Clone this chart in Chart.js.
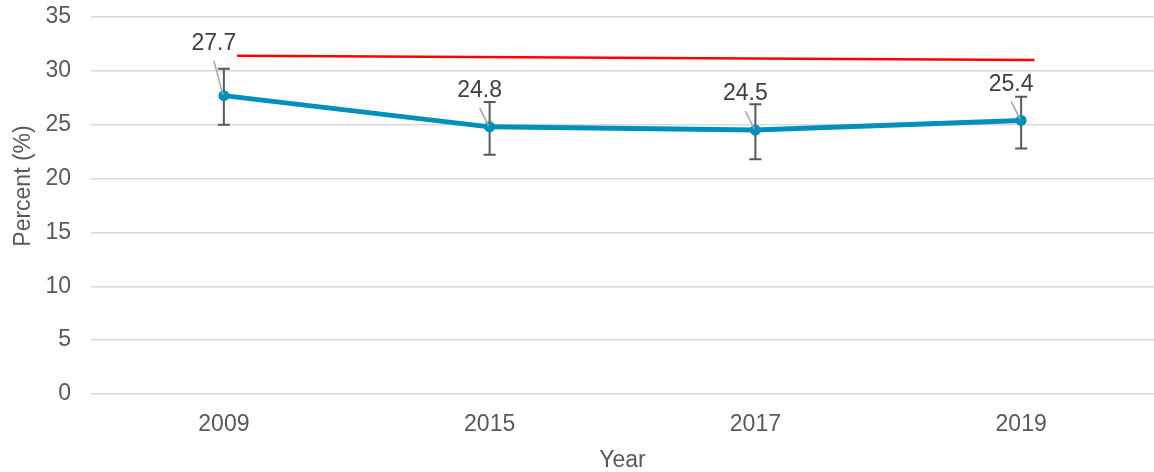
<!DOCTYPE html>
<html>
<head>
<meta charset="utf-8">
<script src="https://cdn.jsdelivr.net/npm/chart.js@4"></script>
<style>
  html, body { margin: 0; padding: 0; background: #fff; overflow: hidden; }
  canvas { display: block; }
</style>
</head>
<body>
<canvas id="myChart" width="1154" height="472"></canvas>
<script>
// data
const years = ['2009', '2015', '2017', '2019'];
const percent = [27.7, 24.8, 24.5, 25.4];
const ciLow = [25.0, 22.2, 21.8, 22.8];
const ciHigh = [30.2, 27.1, 26.9, 27.6];
// red reference line, start and end (x in category index units)
const refX = [0.05, 3.05];
const refY = [31.4, 31.0];

const FONT = "'Liberation Sans', Arial, sans-serif";

// error bars under the line
const errorBars = {
  id: 'errorBars',
  beforeDatasetsDraw(chart) {
    const ctx = chart.ctx;
    const x = chart.scales.x, y = chart.scales.y;
    ctx.save();
    ctx.strokeStyle = '#595959';
    ctx.lineWidth = 2;
    years.forEach((yr, i) => {
      const px = x.getPixelForValue(i);
      const top = y.getPixelForValue(ciHigh[i]);
      const bot = y.getPixelForValue(ciLow[i]);
      ctx.beginPath();
      ctx.moveTo(px, top); ctx.lineTo(px, bot);
      ctx.moveTo(px - 6, top); ctx.lineTo(px + 6, top);
      ctx.moveTo(px - 6, bot); ctx.lineTo(px + 6, bot);
      ctx.stroke();
    });
    ctx.restore();
  }
};

// value labels with leader lines, plus the y title
const labelsPlugin = {
  id: 'labelsPlugin',
  afterDatasetsDraw(chart) {
    const ctx = chart.ctx;
    const meta = chart.getDatasetMeta(0);
    ctx.save();
    meta.data.forEach((pt, i) => {
      const lift = i === 0 ? 52 : 36;
      const lx = pt.x - 10, ly = pt.y - lift;
      ctx.strokeStyle = '#a6a6a6';
      ctx.lineWidth = 1.5;
      ctx.beginPath();
      ctx.moveTo(lx, ly + 17);
      ctx.lineTo(pt.x - 1, pt.y - 1);
      ctx.stroke();
      ctx.fillStyle = '#404040';
      ctx.font = '23px ' + FONT;
      ctx.textAlign = 'center';
      ctx.textBaseline = 'middle';
      ctx.fillText(percent[i].toFixed(1), lx, ly);
    });
    ctx.restore();
  },
  afterDraw(chart) {
    const ctx = chart.ctx;
    ctx.save();
    ctx.translate(24, 186);
    ctx.rotate(-Math.PI / 2);
    ctx.fillStyle = '#595959';
    ctx.font = '23px ' + FONT;
    ctx.textAlign = 'center';
    ctx.textBaseline = 'middle';
    ctx.fillText('Percent (%)', 0, 0);
    ctx.restore();
  }
};

const ctx = document.getElementById('myChart').getContext('2d');
new Chart(ctx, {
  type: 'line',
  data: {
    labels: years,
    datasets: [{
      label: 'Percent',
      data: percent,
      borderColor: '#0090ba',
      backgroundColor: '#0090ba',
      borderWidth: 5,
      pointRadius: 3,
      pointHoverRadius: 3,
      tension: 0,
      xAxisID: 'x',
      order: 1
    }, {
      label: 'Reference',
      data: refX.map((v, i) => ({ x: v, y: refY[i] })),
      borderColor: '#ff0000',
      backgroundColor: '#ff0000',
      borderWidth: 2.5,
      pointRadius: 0,
      xAxisID: 'x2',
      order: 2
    }]
  },
  options: {
    responsive: false,
    animation: false,
    layout: { autoPadding: false, padding: { top: 17, right: 0, left: 0, bottom: 0 } },
    plugins: {
      legend: { display: false },
      tooltip: { enabled: false }
    },
    scales: {
      x: {
        type: 'category',
        offset: true,
        grid: { display: false, drawTicks: false },
        border: { display: false },
        ticks: { color: '#595959', font: { family: FONT, size: 23 }, padding: 17 },
        title: {
          display: true, text: 'Year', color: '#595959',
          font: { family: FONT, size: 23, lineHeight: 1 },
          padding: { top: 0, bottom: 0 }
        },
        afterFit(scale) {
          scale.height = 78;
          scale.paddingLeft = 0;
          scale.paddingRight = 0;
        }
      },
      x2: {
        type: 'linear',
        display: false,
        min: -0.5,
        max: 3.5
      },
      y: {
        min: 0,
        max: 35,
        ticks: { stepSize: 5, color: '#595959', font: { family: FONT, size: 23 }, padding: 20 },
        grid: { color: '#d9d9d9', lineWidth: 1.5, drawTicks: false },
        border: { display: false },
        afterFit(scale) {
          scale.width = 91;
          scale.paddingTop = 0;
          scale.paddingBottom = 0;
        }
      }
    }
  },
  plugins: [errorBars, labelsPlugin]
});
</script>
</body>
</html>
